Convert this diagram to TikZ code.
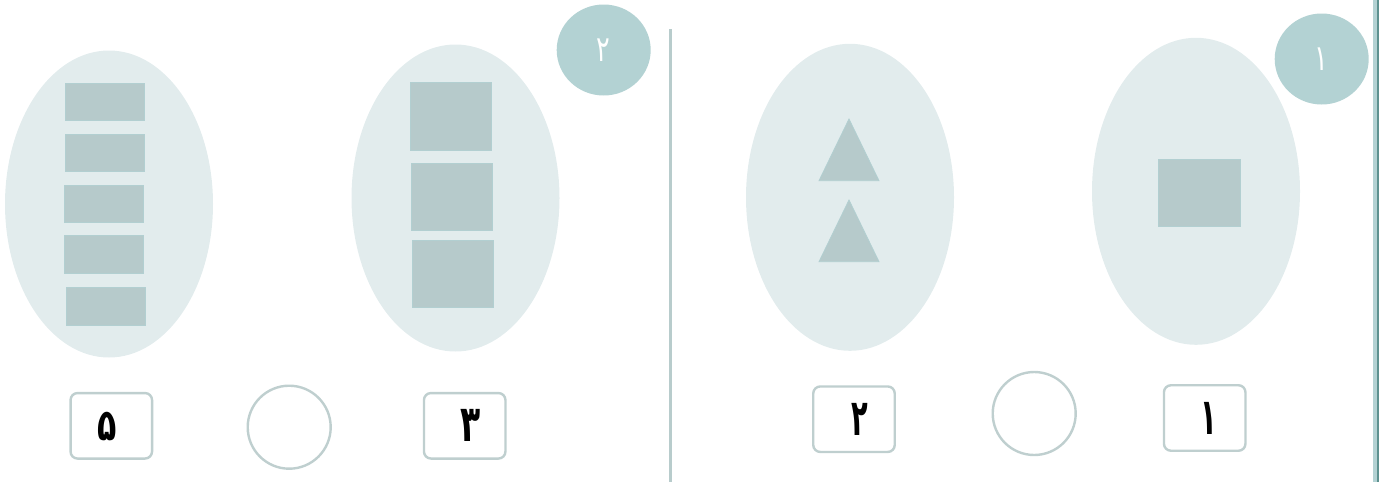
\documentclass[tikz,border=0pt]{standalone}
\usepackage{fontspec}
\usepackage{graphicx}
\usetikzlibrary{shapes.geometric}
\newfontfamily\digitfont[Script=Arabic]{DejaVu Sans}
\definecolor{ovalfill}{HTML}{E2ECED}
\definecolor{shapefill}{HTML}{B6CACB}
\definecolor{shapeedge}{HTML}{B2CFD1}
\definecolor{badgefill}{HTML}{B3D2D3}
\definecolor{boxedge}{HTML}{BFCFCF}
\definecolor{divider}{HTML}{B8CCCC}
\definecolor{edgedark}{HTML}{5E9290}
\newcommand{\boxdigit}[3]{\scalebox{#1}[#2]{\digitfont\bfseries\fontsize{44}{44}\selectfont #3}}
\newcommand{\badgedigit}[1]{\scalebox{0.75}[1.05]{\digitfont\fontsize{34}{34}\selectfont #1}}
\tikzset{
  oval/.style={ellipse, fill=ovalfill, draw=none, inner sep=0pt, minimum width=208pt, minimum height=307pt},
  block/.style={rectangle, fill=shapefill, draw=shapeedge, line width=0.8pt, inner sep=0pt},
  tri/.style={fill=shapefill, draw=shapeedge, line width=0.8pt, line join=miter},
  badge/.style={ellipse, fill=badgefill, draw=none, inner sep=0pt, minimum width=94pt, minimum height=91pt},
  badgetext/.style={text=white, inner sep=0pt},
  numbox/.style={rectangle, rounded corners=7pt, draw=boxedge, line width=2.4pt, fill=white, inner sep=0pt, minimum width=81.5pt, minimum height=65.5pt},
  numtext/.style={inner sep=0pt, text=black},
  answer/.style={circle, draw=boxedge, line width=2.4pt, fill=white, inner sep=0pt, minimum size=83pt}
}
\begin{document}
\begin{tikzpicture}[x=1pt,y=-1pt]
\useasboundingbox (0,0) rectangle (1379,482);
% right edge strip
\fill[badgefill] (1373.3,0) rectangle (1377,482);
\fill[edgedark] (1377,0) rectangle (1379,482);
% divider
\draw[divider, line width=3pt] (670.7,29) -- (670.7,482);

% ovals
\node[oval] (o1) at (109,204) {};
\node[oval] (o2) at (455.5,198) {};
\node[oval] (o3) at (850,197.3) {};
\node[oval] (o4) at (1196,191.3) {};

% badges
\node[badge] (b2) at (603.7,50) {};
\node[badgetext] (b2t) at (b2.center) {\badgedigit{۲}};
\node[badge] (b1) at (1321.7,59) {};
\node[badgetext] (b1t) at (b1.center) {\badgedigit{۱}};

% five bars
\node[block, minimum width=79pt, minimum height=37.5pt] (r51) at (104.5,102.1) {};
\node[block, minimum width=79pt, minimum height=37.5pt] (r52) at (104.5,152.9) {};
\node[block, minimum width=79pt, minimum height=37.5pt] (r53) at (104.2,203.8) {};
\node[block, minimum width=79pt, minimum height=37.5pt] (r54) at (104.2,254.5) {};
\node[block, minimum width=79pt, minimum height=37.5pt] (r55) at (106.2,306.5) {};

% three squares
\node[block, minimum width=81pt, minimum height=67.3pt] (r31) at (451.2,116.3) {};
\node[block, minimum width=81pt, minimum height=67.3pt] (r32) at (452.2,196.7) {};
\node[block, minimum width=81pt, minimum height=67.3pt] (r33) at (452.8,273.7) {};

% two triangles
\draw[tri] (849,119) -- (879,180.7) -- (819,180.7) -- cycle;
\draw[tri] (849,200) -- (879,261.7) -- (819,261.7) -- cycle;

% one square
\node[block, minimum width=81.7pt, minimum height=67.7pt] (r11) at (1199.2,192.9) {};

% answer boxes
\node[numbox] (n5) at (111.3,425.8) {};
\node[numtext] (n5t) at ([xshift=-4.5pt,yshift=-1pt]n5.center) {\boxdigit{0.72}{1.0}{۵}};
\node[answer] (c2) at (289.2,427.2) {};
\node[numbox] (n3) at (464.7,425.8) {};
\node[numtext] (n3t) at ([xshift=6pt]n3.center) {\boxdigit{0.75}{1.15}{۳}};
\node[numbox] (n2) at (854,419.2) {};
\node[numtext] (n2t) at ([xshift=6pt]n2.center) {\boxdigit{0.62}{1.15}{۲}};
\node[answer] (c1) at (1034.2,413.5) {};
\node[numbox] (n1) at (1204.7,418) {};
\node[numtext] (n1t) at ([xshift=4.6pt]n1.center) {\boxdigit{0.62}{1.15}{۱}};
\end{tikzpicture}
\end{document}
